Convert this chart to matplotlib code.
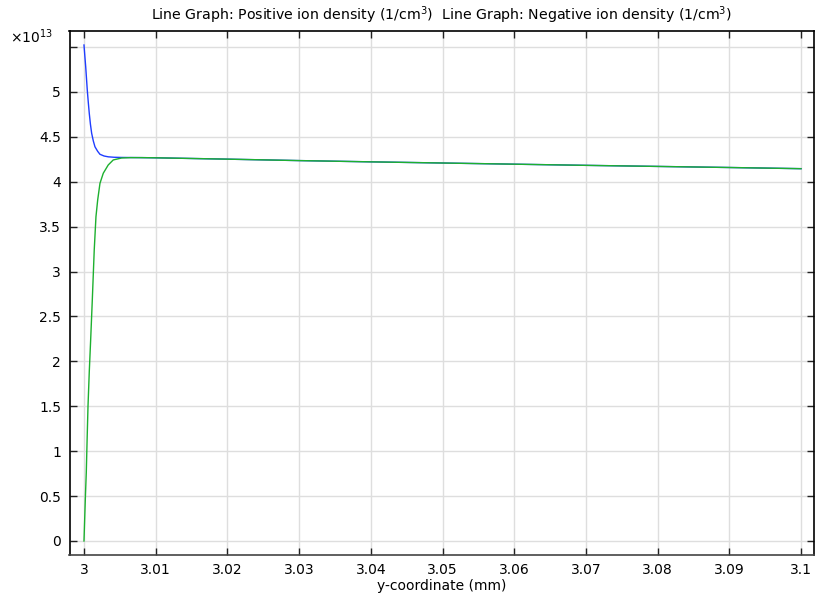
import matplotlib
matplotlib.use("Agg")
import matplotlib.pyplot as plt

# y-coordinate (mm)
x_pos = [3.0, 3.00012, 3.00024, 3.00035, 3.00046, 3.0006, 3.00074, 3.0009, 3.00107, 3.0013,
         3.00153, 3.0019, 3.00223, 3.0028, 3.00338, 3.0042, 3.0052, 3.0065, 3.008, 3.01,
         3.02, 3.03, 3.04, 3.05, 3.06, 3.07, 3.08, 3.09, 3.1]
# Positive ion density (1e13 1/cm^3)
pos_density = [5.523, 5.40, 5.28, 5.15, 5.02, 4.885, 4.76, 4.64, 4.54, 4.455,
               4.39, 4.34, 4.306, 4.287, 4.278, 4.273, 4.271, 4.27, 4.269, 4.267,
               4.252, 4.236, 4.222, 4.209, 4.196, 4.183, 4.171, 4.159, 4.146]

x_neg = [3.0, 3.0001, 3.0002, 3.00032, 3.00044, 3.00056, 3.00074, 3.00093, 3.00116, 3.00143,
         3.00167, 3.00191, 3.00223, 3.00269, 3.00338, 3.00408, 3.00525, 3.0065, 3.008, 3.01,
         3.02, 3.03, 3.04, 3.05, 3.06, 3.07, 3.08, 3.09, 3.1]
# Negative ion density (1e13 1/cm^3)
neg_density = [0.0, 0.25, 0.50, 0.76, 1.14, 1.50, 1.89, 2.238, 2.684, 3.241,
               3.611, 3.797, 3.983, 4.095, 4.187, 4.243, 4.265, 4.269, 4.269, 4.267,
               4.252, 4.236, 4.222, 4.209, 4.196, 4.183, 4.171, 4.159, 4.146]

x_ticks = [3.0, 3.01, 3.02, 3.03, 3.04, 3.05, 3.06, 3.07, 3.08, 3.09, 3.1]
x_tick_labels = ["3", "3.01", "3.02", "3.03", "3.04", "3.05", "3.06", "3.07", "3.08", "3.09", "3.1"]
y_ticks = [0, 0.5, 1, 1.5, 2, 2.5, 3, 3.5, 4, 4.5, 5, 5.5]
y_tick_labels = ["0", "0.5", "1", "1.5", "2", "2.5", "3", "3.5", "4", "4.5", "5", ""]

plt.rcParams['font.family'] = ['DejaVu Sans']
fig = plt.figure(figsize=(8.15, 5.98), dpi=100)
ax = fig.add_axes([69.5/815, 1-555/598, (814-69.5)/815, (555-31)/598])

ax.plot(x_pos, pos_density, color='#1f3dff', lw=1.0, zorder=3, solid_joinstyle='round')
ax.plot(x_neg, neg_density, color='#1db02f', lw=1.0, zorder=4, solid_joinstyle='round')

ax.set_xlim(2.99798, 3.10181)
ax.set_ylim(-0.156, 5.679)
ax.set_xticks(x_ticks)
ax.set_xticklabels(x_tick_labels)
ax.set_yticks(y_ticks)
ax.set_yticklabels(y_tick_labels)
ax.tick_params(direction='in', length=5, width=1, top=True, right=True, labelsize=10, pad=6,
               color='#222222')
ax.grid(True, color='#dedede', lw=1, zorder=0)
ax.set_axisbelow(True)
for s in ['left', 'top', 'right']:
    ax.spines[s].set_color('black')
ax.spines['bottom'].set_color('#444444')
for s in ax.spines.values():
    s.set_linewidth(1.2)

ax.set_xlabel("y-coordinate (mm)", fontsize=10, labelpad=1)
ax.set_title("Line Graph: Positive ion density (1/cm$^3$)  Line Graph: Negative ion density (1/cm$^3$)",
             fontsize=10.2, pad=8)
fig.text(10/815, 1-37/598, r"$\times10^{13}$", fontsize=10, va='center', ha='left')

fig.savefig("out.png", dpi=100)
